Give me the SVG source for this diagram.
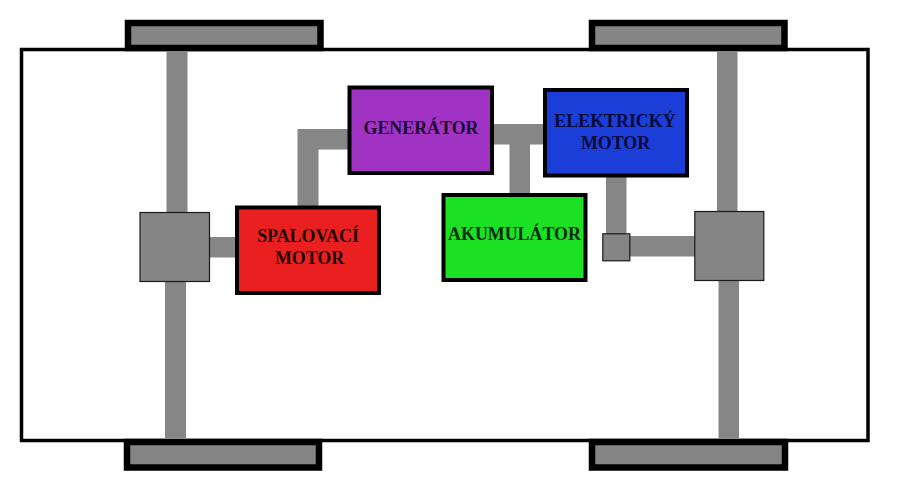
<svg xmlns="http://www.w3.org/2000/svg" width="900" height="481" viewBox="0 0 900 481">
<style>
.body{fill:#fff;stroke:#000;stroke-width:3.5}
.tire{fill:#858585;stroke:#000;stroke-width:6.5}
.bar{fill:#868686}
.hub{fill:#858585;stroke:#1a1a1a;stroke-width:1.2}
.box{stroke:#000;stroke-width:4}
text{font-family:"Liberation Serif","Times New Roman",serif;font-weight:bold;font-size:17.9px;text-anchor:middle}
</style>
<rect width="900" height="481" fill="#fff"/>
<g id="car-body">
<rect class="body" x="21.5" y="49.5" width="846.5" height="391"/>
</g>
<g id="wheel-top-left"><path class="tire" d="M128 48V23H320.500V48Z"/></g>
<g id="wheel-top-right"><path class="tire" d="M592 48V23H784.500V48Z"/></g>
<g id="wheel-bottom-left"><path class="tire" d="M127 442V467.500H319V442Z"/></g>
<g id="wheel-bottom-right"><path class="tire" d="M592 442V467.500H785V442Z"/></g>
<g id="connectors">
<rect class="bar" x="166.500" y="51" width="21" height="162"/>
<rect class="bar" x="165" y="281" width="21" height="157"/>
<rect class="bar" x="209" y="237" width="27" height="20.500"/>
<path class="bar" d="M297.500 206V129H348V149.500H318.500V206Z"/>
<rect class="bar" x="493" y="124" width="51" height="20.500"/>
<rect class="bar" x="509.500" y="144" width="20.500" height="50"/>
<rect class="bar" x="606" y="176" width="20.500" height="59"/>
<rect class="bar" x="629" y="236" width="66" height="20.500"/>
<rect class="bar" x="717" y="51" width="20.500" height="161"/>
<rect class="bar" x="718.500" y="280" width="20.500" height="158"/>
</g>
<g id="hub-left"><rect class="hub" x="140" y="212.500" width="69.500" height="69"/></g>
<g id="hub-right"><rect class="hub" x="694.800" y="211.500" width="69" height="69"/></g>
<g id="coupling"><rect class="hub" x="602.800" y="233.800" width="27" height="27"/></g>
<g id="spalovaci-motor" fill="#1f0505">
<rect class="box" x="237" y="207.500" width="142" height="85.500" fill="#ea2020"/>
<text x="308" y="242">SPALOVACÍ</text>
<text x="309.500" y="264">MOTOR</text>
</g>
<g id="generator" fill="#1c0a30">
<rect class="box" x="349.500" y="87.500" width="142.500" height="85.500" fill="#a032c4"/>
<text x="421" y="134">GENERÁTOR</text>
</g>
<g id="elektricky-motor" fill="#050a3a">
<rect class="box" x="545" y="90" width="142" height="85.500" fill="#1c3ed8"/>
<text x="615" y="127">ELEKTRICKÝ</text>
<text x="615.500" y="149">MOTOR</text>
</g>
<g id="akumulator" fill="#052a08">
<rect class="box" x="443.500" y="195" width="142" height="85" fill="#1ce024"/>
<text x="514.500" y="240">AKUMULÁTOR</text>
</g>
</svg>
